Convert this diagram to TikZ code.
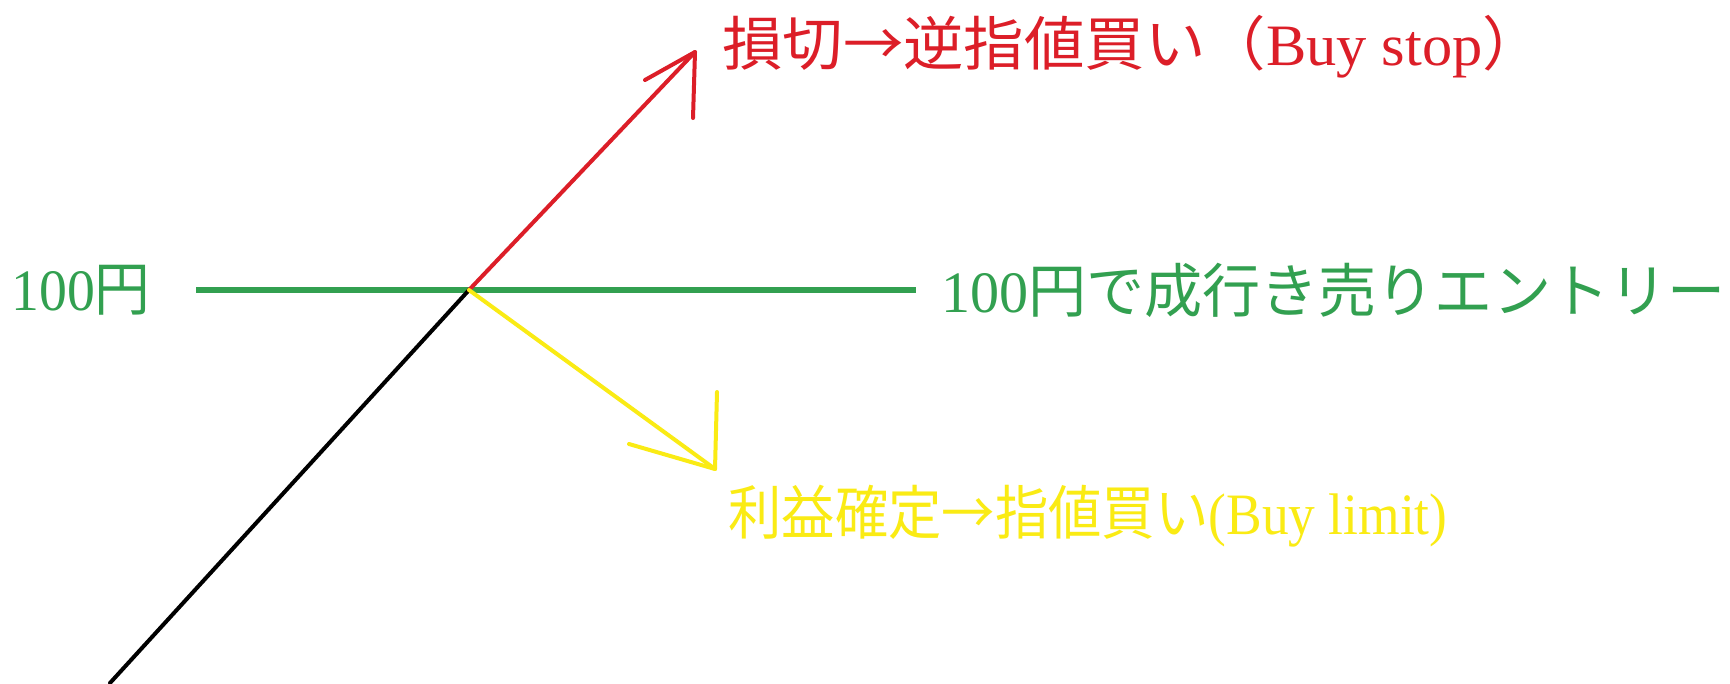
\documentclass[tikz,border=0pt]{standalone}
\usepackage{fontspec}
\setmainfont{Liberation Serif}
\newfontfamily\cjk{Noto Sans CJK JP}
\definecolor{cred}{RGB}{220,30,40}
\definecolor{cgreen}{RGB}{50,160,80}
\definecolor{cyellow}{RGB}{250,235,20}
\begin{document}
\begin{tikzpicture}[x=0.75pt,y=-0.75pt,
  ln/.style={line width=3pt,line cap=round,line join=round},
  lbl/.style={inner sep=0pt,font=\fontsize{44}{48}\selectfont},
]
\useasboundingbox[fill=white] (0,0) rectangle (1730,683);
\coordinate (o) at (469,290);
\coordinate (gl) at (196,290);
\coordinate (gr) at (916,290);
\coordinate (bl) at (110,683);
\coordinate (rt) at (695,52);
\coordinate (rb1) at (645,80);
\coordinate (rb2) at (693,118);
\coordinate (yt) at (715,469);
\coordinate (yb1) at (629,444);
\coordinate (yb2) at (717,392);
% lines
\draw[ln,line width=4pt,line cap=butt,cgreen] (gl) -- (gr);
\draw[ln,black] (bl) -- (o);
\draw[ln,cred] (o) -- (rt);
\draw[ln,cred] (rb1) -- (rt) -- (rb2);
\draw[ln,cyellow] (o) -- (yt);
\draw[ln,cyellow] (yb1) -- (yt) -- (yb2);
% labels
\node[lbl,cgreen,anchor=west] (p100) at (11,290) {\scalebox{0.95}[1]{100{\cjk 円}}};
\node[lbl,cgreen,anchor=west] (entry) at (941,290) {\scalebox{0.99}[1]{100{\cjk 円で成行き売りエントリー}}};
\node[lbl,cred,anchor=west] (stop) at (722,47) {\scalebox{1.03}[1]{{\cjk 損切→逆指値買い（}Buy stop{\cjk ）}}};
\node[lbl,cyellow,anchor=west] (limit) at (728,516) {\scalebox{0.91}[1]{{\cjk 利益確定→指値買い}(Buy limit)}};
\end{tikzpicture}
\end{document}
